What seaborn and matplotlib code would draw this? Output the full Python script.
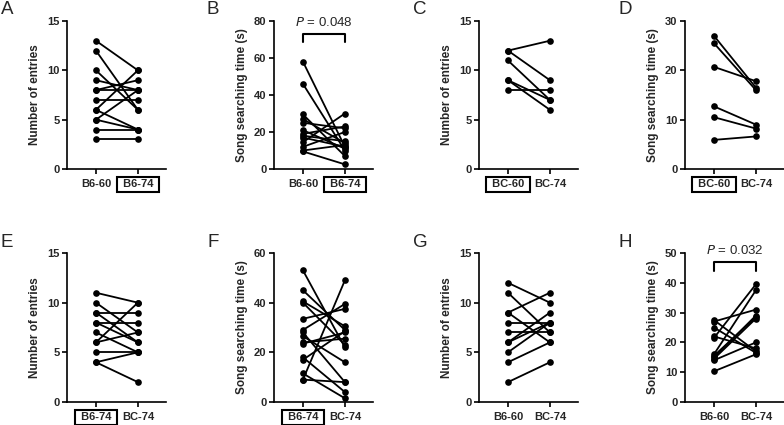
import pandas as pd
import matplotlib
matplotlib.use('Agg')
import matplotlib.pyplot as plt
import seaborn as sns

sns.set_theme(style='ticks')
plt.rcParams['font.family'] = ['Liberation Sans', 'DejaVu Sans']

# ---- data (paired values: first group -> second group) ----
a_first = [13, 12, 10, 9, 8, 8, 7, 6, 6, 5, 5, 4, 3]
a_second = [10, 6, 6, 8, 9, 8, 7, 10, 4, 8, 4, 4, 3]

b_first = [58, 46, 29.5, 27, 25, 21, 19, 18, 17, 14.5, 12, 10, 9.5]
b_second = [12, 10, 7, 14, 22, 11, 23, 15, 12, 30, 20, 13, 2.5]

c_first = [12, 12, 11, 9, 9, 8]
c_second = [13, 9, 7, 7, 6, 8]

d_first = [27, 25.5, 20.7, 12.7, 10.5, 5.9]
d_second = [16.5, 16, 17.8, 9, 8.2, 6.6]

e_first = [11, 10, 9, 9, 8, 8, 7, 6, 6, 5, 4, 4]
e_second = [10, 7, 9, 6, 8, 6, 5, 10, 7, 5, 5, 2]

f_first = [53, 45, 40.5, 40, 33.5, 29, 28, 26.5, 24, 23.5, 18, 17, 11.5, 9, 9]
f_second = [22, 29, 30.5, 23, 37.5, 39.5, 8, 16, 25.5, 28, 4, 28.5, 1.5, 49, 8]

g_first = [12, 11, 9, 9, 8, 7, 6, 6, 5, 4, 2]
g_second = [10, 7, 11, 6, 8, 7, 8, 9, 8, 6, 4]

h_first = [27.5, 27, 25, 22, 21.5, 16, 15.5, 15, 14.5, 14, 10.3]
h_second = [17, 31, 16.5, 18, 39.5, 37.5, 28.5, 29, 28, 20, 16]

panels = [
    ('A', ['B6-60', 'B6-74'], 1, a_first, a_second, 15, 5, 'Number of entries', None),
    ('B', ['B6-60', 'B6-74'], 1, b_first, b_second, 80, 20, 'Song searching time (s)', '0.048'),
    ('C', ['BC-60', 'BC-74'], 0, c_first, c_second, 15, 5, 'Number of entries', None),
    ('D', ['BC-60', 'BC-74'], 0, d_first, d_second, 30, 10, 'Song searching time (s)', None),
    ('E', ['B6-74', 'BC-74'], 0, e_first, e_second, 15, 5, 'Number of entries', None),
    ('F', ['B6-74', 'BC-74'], 0, f_first, f_second, 60, 20, 'Song searching time (s)', None),
    ('G', ['B6-60', 'BC-74'], None, g_first, g_second, 15, 5, 'Number of entries', None),
    ('H', ['B6-60', 'BC-74'], None, h_first, h_second, 50, 10, 'Song searching time (s)', '0.032'),
]

W, H = 784, 425
fig = plt.figure(figsize=(W / 100, H / 100), dpi=100)

col_x = [67, 274, 479, 685]
row_y = [(21, 169), (253, 402)]
ax_w = 99

for i, (letter, labels, boxed, first, second, ymax, step, ylabel, pval) in enumerate(panels):
    r, c = divmod(i, 4)
    top, bot = row_y[r]
    ax = fig.add_axes([col_x[c] / W, 1 - bot / H, ax_w / W, (bot - top) / H])

    n = len(first)
    df = pd.DataFrame({
        'pair': list(range(n)) * 2,
        'group': [0] * n + [1] * n,
        'value': first + second,
    })
    sns.lineplot(data=df, x='group', y='value', units='pair', estimator=None,
                 color='black', lw=1.3, marker='o', markersize=4.8,
                 markeredgewidth=0, ax=ax, legend=False)

    ax.set_xlim(-0.69, 1.67)
    ax.set_ylim(0, ymax)
    ax.set_yticks(range(0, ymax + 1, step))
    ax.set_xticks([0, 1])
    shown = [(' ' + t + ' ') if k == boxed else t for k, t in enumerate(labels)]
    ax.set_xticklabels(shown)
    ax.set_xlabel('')
    ax.set_ylabel(ylabel, fontsize=8.5, fontweight='bold', labelpad=4)
    for lbl in ax.get_xticklabels() + ax.get_yticklabels():
        lbl.set_fontweight('bold')
        lbl.set_fontsize(8)
    ax.tick_params(axis='both', width=1.2, length=3.5, color='black', pad=2)
    ax.tick_params(axis='x', pad=4)
    for side in ['left', 'bottom']:
        ax.spines[side].set_linewidth(1.2)
        ax.spines[side].set_color('black')
    sns.despine(ax=ax)

    if boxed is not None:
        ax.get_xticklabels()[boxed].set_bbox(
            dict(boxstyle='square,pad=0.25', fc='white', ec='black', lw=1.5))

    if pval is not None:
        y_top = ymax * (0.915 if ymax == 80 else 0.94)
        leg = ymax * 0.06
        ax.plot([0, 0, 1, 1], [y_top - leg, y_top, y_top, y_top - leg],
                color='black', lw=1.5, clip_on=False)
        ax.text(0.5, y_top + ymax * 0.03, r'$\it{P}$ = ' + pval, ha='center',
                va='bottom', fontsize=9.5)

    lx = [7, 213, 420, 625][c]
    ly = [10, 242][r]
    fig.text(lx / W, 1 - ly / H, letter, fontsize=13.5, ha='center', va='center')

fig.savefig('out.png', dpi=100)
